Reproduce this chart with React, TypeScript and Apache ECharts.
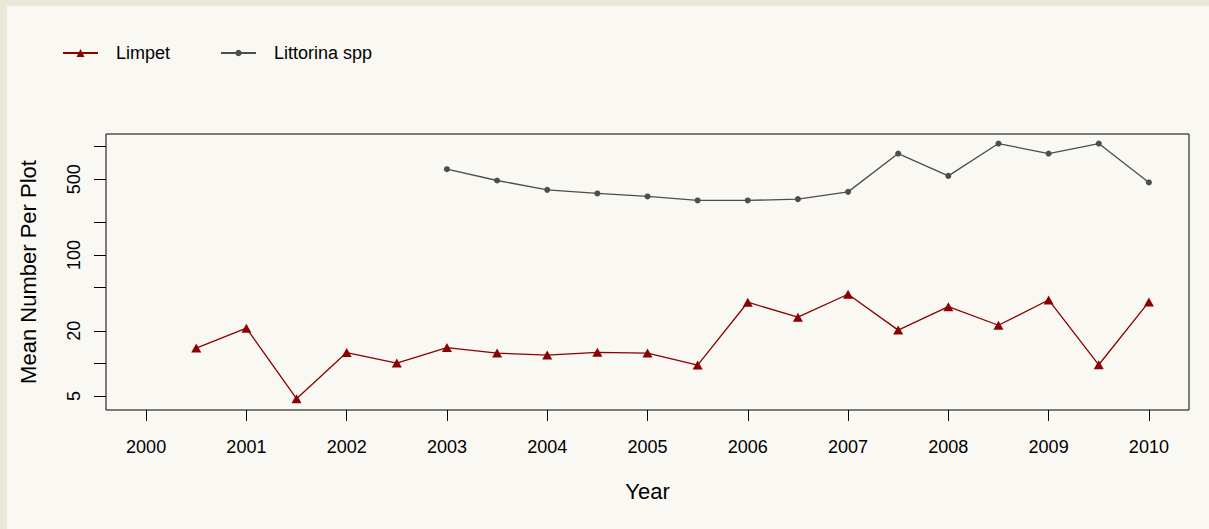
import React, { useEffect, useRef } from "react";
import * as echarts from "echarts";

const limpetYears = [2000.5, 2001, 2001.5, 2002, 2002.5, 2003, 2003.5, 2004, 2004.5, 2005, 2005.5, 2006, 2006.5, 2007, 2007.5, 2008, 2008.5, 2009, 2009.5, 2010];
const limpetValues = [13.85, 21.15, 4.73, 12.61, 10.07, 14.02, 12.45, 11.94, 12.66, 12.45, 9.65, 36.7, 26.7, 43.5, 20.3, 33.4, 22.5, 38.5, 9.72, 36.9];
const littorinaYears = [2003, 2003.5, 2004, 2004.5, 2005, 2005.5, 2006, 2006.5, 2007, 2007.5, 2008, 2008.5, 2009, 2009.5, 2010];
const littorinaValues = [618.6, 486.9, 399, 369.8, 347, 318.8, 318.8, 327.6, 382.4, 863, 537, 1067, 863, 1067, 466.9];
const xTicks = [2000, 2001, 2002, 2003, 2004, 2005, 2006, 2007, 2008, 2009, 2010];
const yTicks = [5, 10, 20, 50, 100, 200, 500, 1000];
const yLabels = [5, 20, 100, 500];

const FONT = "Liberation Sans";

export default function App() {
  const ref = useRef<HTMLDivElement>(null);
  useEffect(() => {
    if (!ref.current) return;
    const chart = echarts.init(ref.current, null, { renderer: "svg" });
    const pair = (xs: number[], ys: number[]) => xs.map((x, i) => [x, ys[i]]);
    chart.setOption({
      animation: false,
      backgroundColor: "#F9F8F3",
      textStyle: { fontFamily: FONT },
      graphic: [
        { type: "rect", left: 0, top: 0, shape: { width: 1209, height: 6 }, style: { fill: "#ECE8D9" } },
        { type: "rect", left: 0, top: 0, shape: { width: 7, height: 529 }, style: { fill: "#ECE8D9" } },
      ],
      legend: [
        {
          left: 57,
          top: 39,
          itemWidth: 35,
          itemHeight: 10,
          data: ["Limpet"],
          textStyle: { fontSize: 18, color: "#000", fontFamily: FONT, padding: [0, 0, 0, 13] },
        },
        {
          left: 215,
          top: 39,
          itemWidth: 35,
          itemHeight: 8,
          data: ["Littorina spp"],
          textStyle: { fontSize: 18, color: "#000", fontFamily: FONT, padding: [0, 0, 0, 13] },
        },
      ],
      grid: {
        left: 106,
        top: 134,
        width: 1083,
        height: 276,
        show: true,
        borderColor: "#000",
        borderWidth: 1,
        backgroundColor: "transparent",
      },
      xAxis: {
        type: "value",
        min: 1999.6,
        max: 2010.4,
        name: "Year",
        nameLocation: "middle",
        nameGap: 70,
        nameTextStyle: { fontSize: 22, color: "#000", fontFamily: FONT },
        axisLine: { show: false },
        splitLine: { show: false },
        axisTick: { show: true, length: 11, customValues: xTicks, lineStyle: { color: "#000", width: 1 } },
        axisLabel: {
          customValues: xTicks,
          margin: 28,
          fontSize: 18,
          color: "#000",
          fontFamily: FONT,
          formatter: (v: number) => String(Math.round(v)),
        },
      },
      yAxis: {
        type: "log",
        logBase: 10,
        min: 3.72,
        max: 1307,
        name: "Mean Number Per Plot",
        nameLocation: "middle",
        nameGap: 67,
        nameTextStyle: { fontSize: 22, color: "#000", fontFamily: FONT },
        axisLine: { show: false },
        splitLine: { show: false },
        minorTick: { show: false },
        axisTick: { show: true, length: 12, customValues: yTicks, lineStyle: { color: "#000", width: 1 } },
        axisLabel: {
          customValues: yLabels,
          rotate: 90,
          margin: 23,
          fontSize: 18,
          color: "#000",
          fontFamily: FONT,
          formatter: (v: number) => String(Math.round(v)),
        },
      },
      series: [
        {
          name: "Limpet",
          type: "line",
          data: pair(limpetYears, limpetValues),
          symbol: "triangle",
          symbolSize: [10, 9],
          itemStyle: { color: "#8B0000" },
          lineStyle: { color: "#8B0000", width: 1.3 },
        },
        {
          name: "Littorina spp",
          type: "line",
          data: pair(littorinaYears, littorinaValues),
          symbol: "circle",
          symbolSize: 6,
          itemStyle: { color: "#4D4D4D" },
          lineStyle: { color: "#4D4D4D", width: 1.3 },
        },
      ],
    });
    return () => chart.dispose();
  }, []);
  return <div ref={ref} style={{ position: "absolute", left: 0, top: 0, width: 1209, height: 529 }} />;
}
